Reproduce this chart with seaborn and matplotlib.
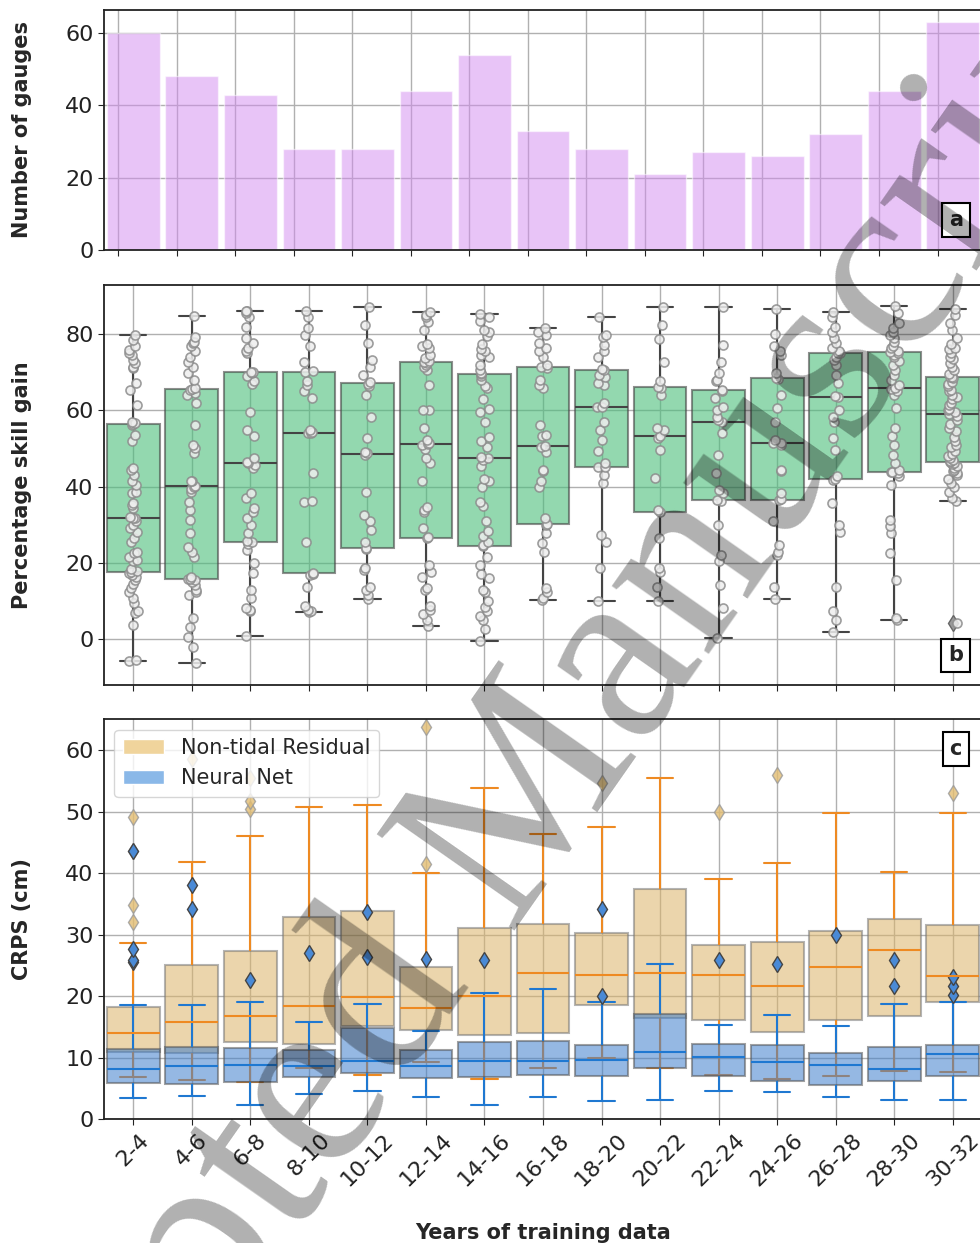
import numpy as np
import pandas as pd
import seaborn as sns
import matplotlib.pyplot as plt
from matplotlib.patches import Patch

# ---- data ----
years = ["2-4", "4-6", "6-8", "8-10", "10-12", "12-14", "14-16", "16-18",
         "18-20", "20-22", "22-24", "24-26", "26-28", "28-30", "30-32"]

n_gauges = [60, 48, 43, 28, 28, 44, 54, 33, 28, 21, 27, 26, 32, 44, 63]

# percentage skill gain per gauge, one list per training window
skill_gain = [
    [-5.7, -5.4, 3.8, 6.8, 7.3, 9.4, 10.8, 12.5, 13.4, 14.5, 15.6, 16.4, 16.9, 17.3, 17.6, 17.8,
     18.5, 20.4, 20.8, 21.5, 22.6, 23.0, 25.6, 26.5, 28.0, 29.3, 30.0, 31.0, 31.7, 31.8, 32.0,
     34.5, 35.2, 35.7, 38.3, 38.7, 40.5, 41.4, 43.0, 44.4, 44.9, 52.0, 53.6, 56.2, 56.4, 56.7,
     57.0, 61.5, 65.4, 67.1, 71.1, 71.5, 72.5, 73.3, 74.6, 75.0, 75.9, 76.9, 78.5, 79.7],
    [-6.3, -1.9, 0.7, 3.3, 5.5, 11.6, 12.3, 12.9, 14.3, 15.0, 15.5, 15.7, 15.9, 16.4, 21.7, 23.0,
     24.3, 27.8, 31.3, 33.9, 36.1, 38.7, 39.5, 40.0, 40.2, 41.4, 41.6, 48.8, 50.1, 51.0, 56.2,
     62.0, 64.0, 64.5, 65.3, 65.6, 66.0, 68.0, 69.8, 71.5, 72.8, 74.1, 75.5, 76.8, 77.6, 78.0,
     79.4, 84.9],
    [0.9, 7.3, 7.7, 8.2, 10.8, 12.9, 17.3, 19.9, 23.4, 25.0, 25.5, 25.7, 27.8, 30.0, 31.7, 33.5,
     34.4, 37.0, 38.3, 45.0, 45.7, 46.1, 46.6, 47.5, 53.2, 54.9, 59.7, 67.0, 67.6, 69.0, 69.8,
     70.0, 70.2, 75.0, 75.5, 76.3, 77.6, 79.0, 82.0, 84.5, 85.5, 86.0, 86.1],
    [7.1, 7.3, 7.7, 8.6, 13.8, 16.9, 17.2, 17.4, 25.6, 36.1, 36.3, 43.5, 54.0, 54.1, 54.3, 54.9,
     63.2, 65.0, 66.7, 67.6, 70.0, 70.4, 72.8, 76.8, 79.8, 81.6, 84.6, 86.1],
    [10.6, 11.5, 12.9, 13.8, 18.2, 18.6, 23.7, 23.9, 25.6, 28.7, 30.9, 32.6, 38.7, 48.3, 48.9,
     49.2, 52.7, 58.4, 64.1, 66.3, 67.0, 67.4, 69.3, 71.5, 73.3, 77.6, 82.4, 87.1],
    [3.5, 5.0, 6.5, 7.7, 8.6, 12.9, 13.4, 16.4, 17.7, 19.5, 26.6, 26.7, 29.1, 33.5, 34.0, 34.8,
     41.4, 46.2, 47.5, 50.0, 51.0, 51.2, 51.4, 52.3, 55.3, 60.0, 60.2, 66.7, 70.5, 71.5, 72.0,
     72.5, 72.6, 73.0, 73.7, 74.6, 76.3, 76.8, 77.5, 81.0, 83.3, 84.5, 85.1, 85.9],
    [-0.4, 2.7, 5.0, 6.0, 7.5, 8.5, 10.0, 12.5, 13.0, 16.0, 17.0, 19.5, 21.5, 24.5, 24.7, 25.5,
     27.0, 28.5, 31.0, 35.0, 36.0, 40.0, 41.5, 42.0, 45.5, 47.0, 47.5, 47.7, 50.5, 52.0, 53.0,
     57.0, 59.5, 60.5, 63.0, 66.0, 66.5, 68.0, 69.0, 69.5, 69.7, 70.5, 72.0, 74.0, 74.5, 75.5,
     76.0, 77.5, 79.5, 80.5, 81.0, 83.5, 84.5, 85.4],
    [10.3, 10.8, 12.5, 13.4, 23.0, 25.2, 27.8, 30.0, 30.2, 31.7, 40.0, 41.4, 44.0, 44.5, 49.2,
     50.5, 50.8, 53.2, 53.5, 56.2, 65.8, 66.7, 68.0, 71.1, 71.3, 72.0, 74.1, 75.5, 76.5, 77.6,
     79.8, 80.5, 81.5],
    [10.1, 18.8, 25.6, 27.4, 40.9, 43.1, 45.2, 45.3, 46.2, 49.4, 52.3, 54.9, 57.1, 60.8, 61.0,
     61.9, 66.7, 67.1, 68.9, 69.3, 70.5, 70.9, 74.1, 75.5, 77.2, 79.4, 79.8, 84.6],
    [10.1, 13.8, 17.7, 18.6, 26.5, 33.3, 33.9, 42.2, 49.7, 52.7, 53.3, 54.9, 55.5, 64.1, 66.0,
     66.2, 67.6, 72.8, 78.8, 82.4, 87.2],
    [0.2, 8.1, 14.3, 20.4, 22.1, 30.0, 36.3, 36.5, 38.3, 39.2, 43.5, 48.3, 54.0, 57.0, 57.5,
     58.4, 60.2, 61.0, 63.2, 65.2, 65.4, 67.6, 68.0, 69.8, 72.8, 77.2, 87.2],
    [10.5, 13.8, 22.1, 23.0, 24.7, 30.9, 36.5, 36.9, 38.3, 44.0, 44.3, 51.0, 51.4, 51.6, 52.3,
     57.1, 60.6, 64.1, 68.35, 68.45, 69.8, 74.5, 75.5, 76.8, 80.0, 86.5],
    [2.0, 5.1, 7.3, 13.8, 28.2, 30.0, 35.7, 41.7, 42.0, 42.7, 49.7, 52.7, 57.1, 58.4, 60.2, 63.5,
     63.7, 67.1, 69.3, 72.0, 73.3, 74.0, 75.0, 75.1, 75.5, 76.5, 77.6, 79.0, 80.7, 82.0, 84.5,
     85.9],
    [5.0, 5.5, 15.6, 22.6, 27.8, 29.6, 31.3, 40.5, 42.7, 43.5, 43.8, 43.95, 44.4, 46.2, 48.3,
     51.0, 53.2, 55.3, 60.6, 64.0, 65.0, 65.7, 65.9, 66.7, 68.0, 69.3, 70.5, 72.0, 73.0, 74.0,
     74.6, 75.0, 75.3, 75.7, 76.3, 77.0, 78.0, 79.0, 79.8, 80.7, 81.5, 83.0, 85.5, 87.4],
    [4.2, 36.3, 37.0, 38.5, 40.0, 41.0, 42.0, 43.0, 43.5, 44.0, 44.5, 45.0, 45.5, 46.0, 46.3,
     46.5, 46.7, 47.0, 47.5, 48.0, 48.5, 49.5, 50.5, 51.0, 52.0, 53.0, 54.5, 55.5, 56.5, 57.5,
     58.5, 59.0, 59.5, 60.0, 60.5, 61.5, 62.0, 63.0, 63.5, 64.0, 65.0, 65.5, 66.5, 67.0, 67.5,
     68.5, 68.7, 68.9, 69.5, 70.5, 71.5, 72.5, 73.5, 74.0, 75.0, 76.0, 76.5, 77.5, 79.0, 81.0,
     83.0, 85.0, 86.6],
]

# CRPS (cm) samples, non-tidal residual baseline
crps_ntr = [
    [6.9, 8.0, 9.0, 10.0, 10.5, 10.9, 12.0, 13.0, 13.5, 14.0, 14.1, 15.0, 16.0, 17.0, 18.0,
     18.3, 28.6, 32.0, 34.9, 43.6, 49.1],
    [6.4, 9.0, 10.8, 13.0, 15.8, 20.0, 25.0, 41.8, 58.6],
    [6.0, 8.0, 10.0, 11.5, 12.5, 14.0, 15.0, 16.0, 16.8, 19.0, 22.0, 25.0, 27.3, 46.0, 50.5,
     51.8, 55.4],
    [8.3, 12.2, 18.4, 32.9, 50.7],
    [7.2, 15.2, 19.9, 33.9, 51.1],
    [9.3, 12.0, 13.5, 14.5, 16.0, 17.0, 18.1, 20.0, 22.0, 24.8, 40.0, 41.5, 63.7],
    [6.5, 13.7, 20.0, 31.1, 53.9],
    [8.4, 14.1, 23.8, 31.8, 46.4],
    [10.0, 15.0, 18.5, 21.0, 23.4, 27.0, 30.3, 47.5, 54.6],
    [8.4, 16.4, 23.8, 37.5, 55.5],
    [7.2, 12.0, 16.2, 20.0, 23.4, 26.0, 28.4, 39.0, 50.0],
    [6.6, 10.0, 14.2, 18.0, 21.7, 25.0, 28.8, 41.7, 55.9],
    [7.0, 16.1, 24.7, 30.6, 49.7],
    [7.9, 16.8, 27.5, 32.5, 40.2],
    [7.7, 14.0, 19.1, 21.0, 23.3, 27.0, 31.5, 49.8, 53.0],
]

# CRPS (cm) samples, neural net
crps_nn = [
    [3.4, 4.0, 4.5, 5.0, 5.5, 5.9, 6.5, 7.0, 7.5, 8.0, 8.1, 9.0, 9.5, 10.0, 11.0, 11.5, 18.6,
     25.6, 25.9, 27.6, 43.6],
    [3.8, 4.5, 5.0, 5.7, 7.0, 8.0, 8.7, 10.0, 11.0, 11.7, 18.5, 34.2, 38.1],
    [2.3, 4.5, 6.0, 7.5, 8.8, 10.0, 11.6, 19.1, 22.6],
    [4.1, 5.5, 6.9, 8.0, 8.7, 10.0, 11.3, 15.8, 27.1],
    [4.6, 5.5, 6.5, 7.6, 8.5, 9.0, 9.5, 11.0, 13.0, 14.9, 18.7, 26.3, 33.7],
    [3.6, 5.0, 6.7, 7.5, 8.6, 10.0, 11.2, 14.4, 26.0],
    [2.4, 5.0, 6.9, 8.0, 9.5, 11.0, 12.6, 20.6, 25.9],
    [3.6, 7.2, 9.4, 12.8, 21.1],
    [3.0, 5.0, 6.0, 7.1, 8.0, 9.0, 9.7, 10.5, 11.0, 12.0, 19.1, 20.1, 34.1],
    [3.1, 8.4, 10.9, 17.1, 25.2],
    [4.6, 6.0, 7.0, 9.0, 10.2, 11.0, 12.2, 15.4, 25.9],
    [4.5, 5.5, 6.2, 8.0, 9.3, 11.0, 12.0, 17.0, 25.2],
    [3.7, 4.5, 5.6, 7.5, 8.9, 10.0, 10.7, 15.2, 29.9],
    [3.1, 4.5, 5.5, 6.3, 7.0, 7.5, 8.2, 9.5, 10.5, 11.8, 18.7, 21.6, 25.9],
    [3.2, 4.5, 5.5, 6.5, 7.1, 8.0, 9.0, 10.0, 10.6, 11.0, 11.5, 11.8, 12.0, 19.0, 20.2, 21.7,
     23.2],
]

# ---- long-form tables ----
df_gain = pd.DataFrame({
    "years": np.repeat(years, [len(v) for v in skill_gain]),
    "gain": np.concatenate(skill_gain),
})
df_crps = pd.concat([
    pd.DataFrame({"years": np.repeat(years, [len(v) for v in crps_ntr]),
                  "crps": np.concatenate(crps_ntr), "model": "Non-tidal Residual"}),
    pd.DataFrame({"years": np.repeat(years, [len(v) for v in crps_nn]),
                  "crps": np.concatenate(crps_nn), "model": "Neural Net"}),
])

sns.set_style("ticks", {"axes.edgecolor": "#222222", "grid.color": "#b0b0b0"})
plt.rcParams["font.family"] = ["DejaVu Sans"]
plt.rcParams.update({
    "xtick.labelsize": 16, "ytick.labelsize": 16,
    "axes.linewidth": 1.3, "grid.linewidth": 1.0,
    "xtick.major.size": 4, "ytick.major.size": 4,
    "xtick.color": "#222222", "ytick.color": "#222222",
})

fig = plt.figure(figsize=(9.8, 12.43), dpi=100)
ax_a = fig.add_axes([0.1061, 0.7989, 0.896, 0.1931])
ax_b = fig.add_axes([0.1061, 0.4489, 0.896, 0.3221])
ax_c = fig.add_axes([0.1061, 0.0995, 0.896, 0.3218])

# (a) gauges per window
sns.barplot(x=years, y=n_gauges, order=years, color="#d38bf0", alpha=0.5,
            saturation=1, width=0.9, errorbar=None, ax=ax_a)
ax_a.set_ylim(0, 66.4)
ax_a.set_yticks([0, 20, 40, 60])
ax_a.set_xticks(np.arange(len(years)) - 0.26)
ax_a.set_xticklabels([])

# (b) skill gain
dark = "#444444"
sns.boxplot(data=df_gain, x="years", y="gain", order=years, width=0.9, linewidth=1.5, ax=ax_b,
            boxprops=dict(facecolor="#4bbe7b", edgecolor=dark, alpha=0.6),
            whiskerprops=dict(color=dark), capprops=dict(color=dark),
            medianprops=dict(color=dark),
            flierprops=dict(marker="d", markerfacecolor="#999999", markeredgecolor="#666666",
                            markersize=8))
np.random.seed(7)
sns.stripplot(data=df_gain, x="years", y="gain", order=years, jitter=0.08, size=6.5,
              color="#eeeeee", edgecolor="#8c8c8c", linewidth=1.2, alpha=0.85, ax=ax_b)
ax_b.set_ylim(-12, 93)
ax_b.set_yticks([0, 20, 40, 60, 80])
ax_b.set_xticks(np.arange(len(years)))
ax_b.set_xticklabels([])

# (c) CRPS of both models, overlaid
orange = "#ee8a22"
blue = "#1f78d1"
ntr = df_crps[df_crps["model"] == "Non-tidal Residual"]
nn = df_crps[df_crps["model"] == "Neural Net"]
sns.boxplot(data=ntr, x="years", y="crps", order=years, width=0.9, linewidth=1.5, ax=ax_c,
            boxprops=dict(facecolor="#dcb468", edgecolor="#777777", alpha=0.55),
            whiskerprops=dict(color=orange), capprops=dict(color=orange),
            medianprops=dict(color=orange),
            flierprops=dict(marker="d", markerfacecolor="#e3bd72", markeredgecolor="#999999",
                            markersize=8, alpha=0.8))
sns.boxplot(data=nn, x="years", y="crps", order=years, width=0.9, linewidth=1.5, ax=ax_c,
            boxprops=dict(facecolor="#3f7fcc", edgecolor="#555555", alpha=0.55),
            whiskerprops=dict(color=blue), capprops=dict(color=blue),
            medianprops=dict(color=blue),
            flierprops=dict(marker="d", markerfacecolor="#4a8ad6", markeredgecolor="#444444",
                            markersize=8))
ax_c.set_ylim(0, 65)
ax_c.set_yticks(range(0, 61, 10))
ax_c.set_xticks(np.arange(len(years)))
ax_c.set_xticklabels(years, rotation=45, ha="center")
ax_c.legend(handles=[Patch(facecolor="#f0d49c", label="Non-tidal Residual"),
                     Patch(facecolor="#8ab8e8", label="Neural Net")],
            loc="upper left", fontsize=15, framealpha=0.8)

labels = ["Number of gauges", "Percentage skill gain", "CRPS (cm)"]
tags = [("a", 0.125), ("b", 0.074), ("c", 0.926)]
for ax, lab, (tag, ty) in zip([ax_a, ax_b, ax_c], labels, tags):
    ax.set_xlim(-0.5, 14.5)
    ax.grid(True, axis="both")
    ax.set_axisbelow(True)
    ax.set_xlabel("")
    ax.set_ylabel(lab, fontsize=15, fontweight="bold")
    ax.yaxis.set_label_coords(-0.082, 0.5)
    ax.text(0.97, ty, tag, transform=ax.transAxes, ha="center", va="center",
            fontsize=15, fontweight="bold",
            bbox=dict(boxstyle="square,pad=0.33", facecolor="white", edgecolor="black",
                      linewidth=1.5))

ax_c.set_xlabel("Years of training data", fontsize=15, fontweight="bold", labelpad=24)

# journal watermark, split at the "M" so its position is pinned
wm = dict(rotation=55, rotation_mode="anchor", va="baseline", fontsize=184,
          family="Liberation Serif", color="black", alpha=0.31, zorder=10)
fig.text(0.5184, 0.2518, "Manuscript", ha="left", **wm)
fig.text(0.4806, 0.2100, "Accepted", ha="right", **wm)

fig.savefig("out.png", dpi=100)
